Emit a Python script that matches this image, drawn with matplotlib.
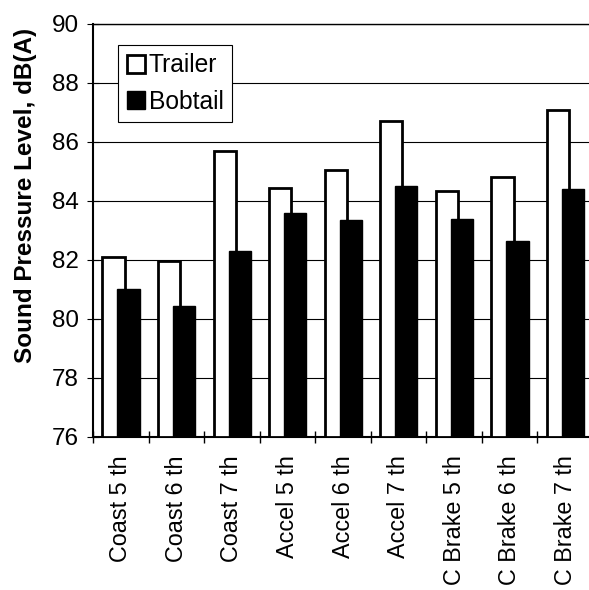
import numpy as np
import matplotlib.pyplot as plt

plt.rcParams['font.family'] = ['Liberation Sans', 'DejaVu Sans']

categories = ['Coast 5 th', 'Coast 6 th', 'Coast 7 th', 'Accel 5 th', 'Accel 6 th',
              'Accel 7 th', 'C Brake 5 th', 'C Brake 6 th', 'C Brake 7 th']
trailer = [82.1, 81.95, 85.7, 84.45, 85.05, 86.7, 84.35, 84.8, 87.1]
bobtail = [81.0, 80.45, 82.3, 83.6, 83.35, 84.5, 83.4, 82.65, 84.4]

fig = plt.figure(figsize=(5.89, 5.90), dpi=100)
ax = fig.add_axes([93 / 589, (590 - 437) / 590, 500 / 589, 413 / 590])

x = np.arange(len(categories))
w = 0.4
ax.bar(x - 0.13, np.array(trailer) - 76, w, bottom=76, color='white',
       edgecolor='black', linewidth=2, label='Trailer', zorder=3)
ax.bar(x + 0.14, np.array(bobtail) - 76, w, bottom=76, color='black',
       edgecolor='black', linewidth=1, label='Bobtail', zorder=4)

ax.set_ylim(76, 90)
ax.set_xlim(-0.5, len(categories) - 0.5)
ax.set_yticks(np.arange(76, 91, 2))
ax.yaxis.grid(True, color='black', linewidth=0.8, zorder=0)
ax.set_axisbelow(True)

ax.set_xticks(x)
ax.set_xticklabels(categories, rotation=90, fontsize=16.8)
ax.set_xticks(np.arange(-0.5, len(categories), 1), minor=True)
ax.tick_params(axis='x', which='major', length=0, pad=13)
ax.tick_params(axis='x', which='minor', direction='inout', length=9, width=1)
ax.tick_params(axis='y', direction='inout', length=8, labelsize=17.5, pad=6)

ax.spines['right'].set_visible(False)
ax.spines['left'].set_linewidth(1.5)
ax.spines['bottom'].set_linewidth(1.5)
ax.spines['top'].set_linewidth(1)

ax.set_ylabel('Sound Pressure Level, dB(A)', fontsize=17.5, fontweight='bold')
ax.yaxis.set_label_coords(-0.112, 0.586)

leg = ax.legend(loc='upper left', bbox_to_anchor=(0.05, 0.95), fontsize=17.7,
                fancybox=False, framealpha=1, edgecolor='black', borderpad=0.35,
                handlelength=0.75, handleheight=0.75, handletextpad=0.15,
                labelspacing=0.5, borderaxespad=0)
leg.get_frame().set_linewidth(0.8)

fig.savefig('out.png', dpi=100)
